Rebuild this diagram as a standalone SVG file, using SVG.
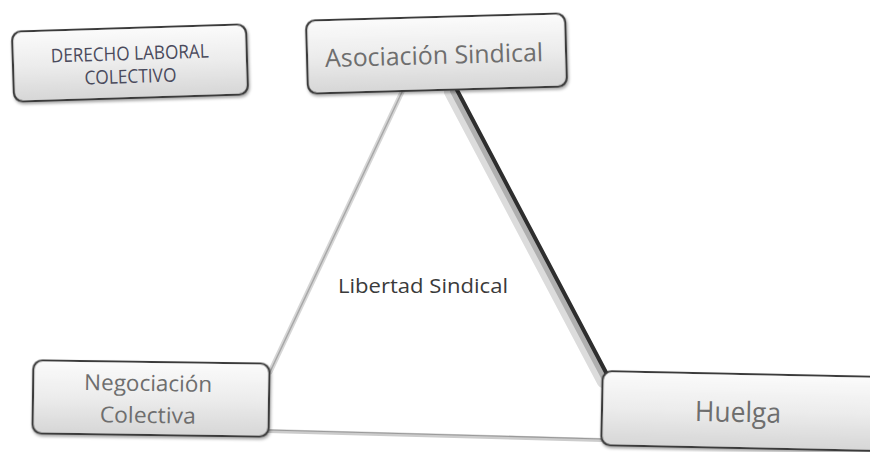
<svg xmlns="http://www.w3.org/2000/svg" width="870" height="452" viewBox="0 0 870 452">
<defs>
<linearGradient id="boxg" x1="0" y1="0" x2="0" y2="1">
<stop offset="0" stop-color="#fbfbfb"/>
<stop offset="0.5" stop-color="#ececec"/>
<stop offset="1" stop-color="#d6d6d6"/>
</linearGradient>
<filter id="sh" x="-10%" y="-10%" width="120%" height="130%">
<feDropShadow dx="1" dy="2" stdDeviation="1.5" flood-color="#000" flood-opacity="0.35"/>
</filter>
</defs>
<style>
.box{fill:url(#boxg);stroke:#3a3a3a;stroke-width:2.2;filter:url(#sh)}
.t{font-family:"Open Sans","Noto Sans","Liberation Sans",sans-serif;fill:#6e6e6e;text-anchor:middle}
.c{stroke-linecap:round;fill:none}
</style>
<rect width="870" height="452" fill="#ffffff"/>
<g id="connectors">
<line class="c" x1="402" y1="92" x2="270" y2="372" stroke="#d6d6d6" stroke-width="5"/>
<line class="c" x1="402" y1="92" x2="270" y2="372" stroke="#a8a8a8" stroke-width="1.5"/>
<line class="c" x1="450" y1="92" x2="603" y2="382" stroke="#dcdcdc" stroke-width="12"/>
<line class="c" x1="453" y1="91" x2="606" y2="381" stroke="#b0b0b0" stroke-width="6"/>
<line class="c" x1="457" y1="90" x2="610" y2="380" stroke="#2e2e2e" stroke-width="4"/>
<line class="c" x1="268" y1="431" x2="602" y2="440" stroke="#cccccc" stroke-width="4"/>
<line class="c" x1="268" y1="430" x2="602" y2="439" stroke="#9a9a9a" stroke-width="1.2"/>
</g>
<g id="derecho" transform="rotate(-1.8 130 63)">
<rect class="box" x="13" y="28" width="234" height="70" rx="9"/>
<text class="t" x="130" y="60" font-size="19" style="fill:#4a4a5c" textLength="158" lengthAdjust="spacingAndGlyphs">DERECHO LABORAL</text>
<text class="t" x="130" y="83" font-size="19" style="fill:#4a4a5c" textLength="92" lengthAdjust="spacingAndGlyphs">COLECTIVO</text>
</g>
<g id="asociacion" transform="rotate(-1.6 437 53)">
<rect class="box" x="307" y="17" width="259" height="73" rx="9"/>
<text class="t" x="434" y="64" font-size="25" textLength="218" lengthAdjust="spacingAndGlyphs">Asociación Sindical</text>
</g>
<g id="negociacion" transform="rotate(0.8 151 398)">
<rect class="box" x="33" y="362" width="236" height="73" rx="9"/>
<text class="t" x="148" y="391" font-size="22" textLength="128" lengthAdjust="spacingAndGlyphs">Negociación</text>
<text class="t" x="148" y="423" font-size="22" textLength="96" lengthAdjust="spacingAndGlyphs">Colectiva</text>
</g>
<g id="huelga" transform="rotate(1.2 740 412)">
<rect class="box" x="602" y="374" width="290" height="74" rx="9"/>
<text class="t" x="738" y="422" font-size="28" textLength="86" lengthAdjust="spacingAndGlyphs">Huelga</text>
</g>
<g id="libertad">
<text class="t" x="423" y="293" font-size="20" style="fill:#3a3a3a" textLength="170" lengthAdjust="spacingAndGlyphs">Libertad Sindical</text>
</g>
</svg>
